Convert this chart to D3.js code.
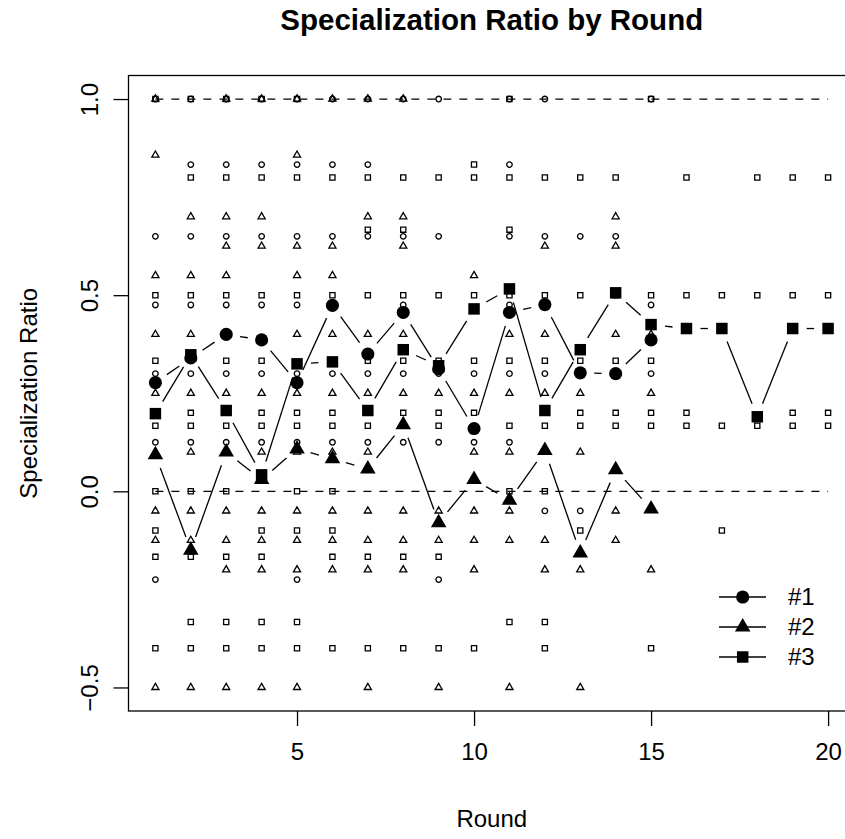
<!DOCTYPE html>
<html>
<head>
<meta charset="utf-8">
<script src="https://cdn.jsdelivr.net/npm/d3@7/dist/d3.min.js"></script>
<style>
  body { margin: 0; background: #fff; }
  svg { display: block; font-family: "Liberation Sans", Arial, Helvetica, sans-serif; }
</style>
</head>
<body>
<svg width="845" height="839"></svg>
<script>
// individual ratios per round, index 0 = round 1
const group1 = [
  [1.0, 0.65, 0.475, 0.3, 0.125, -0.225],
  [1.0, 0.833, 0.65, 0.475, 0.3, 0.125],
  [1.0, 0.833, 0.65, 0.475, 0.3, 0.125],
  [1.0, 0.833, 0.65, 0.475, 0.3, 0.125],
  [1.0, 0.833, 0.65, 0.475, 0.3, 0.125, -0.225],
  [1.0, 0.833, 0.65, 0.475, 0.3, 0.125],
  [1.0, 0.833, 0.65, 0.3, 0.125],
  [1.0, 0.65, 0.475, 0.3, 0.125],
  [1.0, 0.65, 0.3, 0.125, -0.225],
  [0.3, 0.125],
  [1.0, 0.833, 0.65, 0.475, 0.3, 0.125],
  [1.0, 0.65, 0.3, -0.05],
  [0.65, 0.3, -0.05],
  [0.65, 0.3],
  [1.0, 0.475, 0.3]
];

const group2 = [
  [1.0, 0.857, 0.55, 0.4, 0.25, 0.1, -0.05, -0.125, -0.5],
  [0.7, 0.55, 0.4, 0.25, 0.1, -0.05, -0.125, -0.5],
  [1.0, 0.7, 0.625, 0.55, 0.25, 0.1, -0.05, -0.125, -0.2, -0.5],
  [1.0, 0.7, 0.625, 0.25, 0.1, -0.05, -0.125, -0.2, -0.5],
  [1.0, 0.857, 0.625, 0.55, 0.4, 0.25, 0.1, -0.05, -0.125, -0.2, -0.5],
  [1.0, 0.625, 0.55, 0.4, 0.25, 0.1, -0.05, -0.125, -0.2],
  [1.0, 0.7, 0.4, 0.25, 0.1, -0.05, -0.125, -0.2, -0.5],
  [1.0, 0.7, 0.625, 0.4, 0.25, -0.05, -0.125, -0.2],
  [0.25, -0.05, -0.125, -0.5],
  [0.55, 0.25, 0.1, -0.05, -0.125, -0.2],
  [0.4, 0.25, 0.1, -0.05, -0.125, -0.5],
  [0.625, 0.4, 0.25, -0.125, -0.2],
  [0.25, 0.1, -0.2, -0.5],
  [0.7, 0.625, 0.4, -0.05, -0.125],
  [0.4, 0.25, -0.2]
];

const group3 = [
  [1.0, 0.5, 0.333, 0.2, 0.167, 0.0, -0.1, -0.167, -0.4],
  [1.0, 0.8, 0.5, 0.2, 0.167, 0.0, -0.167, -0.333, -0.4],
  [1.0, 0.8, 0.5, 0.333, 0.167, 0.0, -0.167, -0.333, -0.4],
  [1.0, 0.8, 0.5, 0.333, 0.2, 0.167, -0.1, -0.167, -0.333, -0.4],
  [1.0, 0.8, 0.5, 0.2, 0.167, 0.0, -0.1, -0.333, -0.4],
  [0.8, 0.5, 0.2, 0.167, 0.0, -0.1, -0.167, -0.4],
  [0.8, 0.667, 0.5, 0.333, 0.167, -0.167, -0.4],
  [0.8, 0.667, 0.5, 0.333, 0.2, -0.167, -0.4],
  [0.8, 0.5, 0.333, 0.2, 0.167, -0.167, -0.4],
  [0.833, 0.8, 0.5, 0.333, 0.2, -0.4],
  [1.0, 0.8, 0.667, 0.5, 0.333, 0.167, 0.0, -0.333],
  [0.8, 0.5, 0.333, 0.167, 0.0, -0.333, -0.4],
  [0.8, 0.5, 0.333, 0.2, 0.167, -0.1],
  [0.8, 0.5, 0.333, 0.2, 0.167],
  [1.0, 0.5, 0.333, 0.2, 0.167, -0.4],
  [0.8, 0.5, 0.2, 0.167],
  [0.5, 0.167, -0.1],
  [0.8, 0.5, 0.167],
  [0.8, 0.5, 0.2, 0.167],
  [0.8, 0.5, 0.2, 0.167]
];

// per-round means
const mean1 = [0.277, 0.34, 0.40, 0.386, 0.277, 0.474, 0.35, 0.456, 0.312, 0.16, 0.456, 0.476, 0.302, 0.30, 0.386];
const mean2 = [0.093, -0.15, 0.10, 0.03, 0.108, 0.083, 0.057, 0.17, -0.08, 0.03, -0.023, 0.104, -0.157, 0.055, -0.045];
const mean3 = [0.198, 0.348, 0.206, 0.042, 0.325, 0.33, 0.206, 0.361, 0.32, 0.465, 0.516, 0.206, 0.361, 0.506, 0.425, 0.415, 0.415, 0.19, 0.415, 0.415];

const refLines = [1.0, 0.0];
const xTicks = [5, 10, 15, 20];
const yTicks = [-0.5, 0.0, 0.5, 1.0];
const legendLabels = ["#1", "#2", "#3"];

const svg = d3.select("svg");

const x = d3.scaleLinear().domain([0.24, 20.76]).range([128.5, 855]);
const y = d3.scaleLinear().domain([-0.56, 1.06]).range([711, 75.5]);

const shapes = [d3.symbolCircle, d3.symbolTriangle, d3.symbolSquare];
const smallSize = [24, 22, 27];
const bigSize = [135, 105, 132];

const sym = (k, size) => d3.symbol().type(shapes[k]).size(size)();

// reference lines
svg.append("g")
  .selectAll("line")
  .data(refLines)
  .join("line")
  .attr("x1", x(1)).attr("x2", x(20))
  .attr("y1", d => y(d)).attr("y2", d => y(d))
  .attr("stroke", "#000")
  .attr("stroke-width", 1.2)
  .attr("stroke-dasharray", "8,8");

// individual points
[group1, group2, group3].forEach((grp, k) => {
  const pts = grp.flatMap((vals, i) => vals.map(v => ({ r: i + 1, v })));
  svg.append("g")
    .selectAll("path")
    .data(pts)
    .join("path")
    .attr("d", sym(k, smallSize[k]))
    .attr("transform", d => `translate(${x(d.r)},${y(d.v)})`)
    .attr("fill", "none")
    .attr("stroke", "#000")
    .attr("stroke-width", 1.3);
});

// mean lines (type "b": segments with gaps round the points)
const gap = 14;
[mean1, mean2, mean3].forEach((means, k) => {
  const p = means.map((v, i) => [x(i + 1), y(v)]);
  const segs = d3.pairs(p).map(([a, b]) => {
    const dx = b[0] - a[0], dy = b[1] - a[1];
    const len = Math.hypot(dx, dy);
    const ux = dx / len, uy = dy / len;
    return { len, x1: a[0] + ux * gap, y1: a[1] + uy * gap, x2: b[0] - ux * gap, y2: b[1] - uy * gap };
  }).filter(s => s.len > 2 * gap);

  svg.append("g")
    .selectAll("line")
    .data(segs)
    .join("line")
    .attr("x1", d => d.x1).attr("y1", d => d.y1)
    .attr("x2", d => d.x2).attr("y2", d => d.y2)
    .attr("stroke", "#000")
    .attr("stroke-width", 1.3);

  svg.append("g")
    .selectAll("path")
    .data(means)
    .join("path")
    .attr("d", sym(k, bigSize[k]))
    .attr("transform", (d, i) => `translate(${x(i + 1)},${y(d)})`)
    .attr("fill", "#000");
});

// box
svg.append("rect")
  .attr("x", x.range()[0]).attr("y", y.range()[1])
  .attr("width", x.range()[1] - x.range()[0])
  .attr("height", y.range()[0] - y.range()[1])
  .attr("fill", "none")
  .attr("stroke", "#000")
  .attr("stroke-width", 1.3);

// axes
const xAxis = svg.append("g")
  .attr("transform", `translate(0,${y.range()[0]})`)
  .call(d3.axisBottom(x).tickValues(xTicks).tickSize(15).tickPadding(17).tickFormat(d3.format("d")));
xAxis.select(".domain").remove();
xAxis.selectAll("line").attr("stroke-width", 1.3);
xAxis.selectAll("text").attr("font-size", 24).attr("font-family", "Liberation Sans, Arial, sans-serif").attr("fill", "#000");

const yAxis = svg.append("g")
  .attr("transform", `translate(${x.range()[0]},0)`)
  .call(d3.axisLeft(y).tickValues(yTicks).tickSize(15).tickFormat(d => d3.format(".1f")(d).replace("-", "\u2212")));
yAxis.select(".domain").remove();
yAxis.selectAll("line").attr("stroke-width", 1.3);
yAxis.selectAll("text")
  .attr("font-size", 24)
  .attr("font-family", "Liberation Sans, Arial, sans-serif")
  .attr("fill", "#000")
  .attr("text-anchor", "middle")
  .attr("x", null).attr("dy", null)
  .attr("transform", "translate(-31,0) rotate(-90)");

// titles
svg.append("text")
  .attr("x", (x.range()[0] + x.range()[1]) / 2)
  .attr("y", 30)
  .attr("text-anchor", "middle")
  .attr("font-size", 29.5)
  .attr("font-weight", "bold")
  .text("Specialization Ratio by Round");

svg.append("text")
  .attr("x", (x.range()[0] + x.range()[1]) / 2)
  .attr("y", 827)
  .attr("text-anchor", "middle")
  .attr("font-size", 24)
  .text("Round");

svg.append("text")
  .attr("transform", `translate(37,${(y.range()[0] + y.range()[1]) / 2}) rotate(-90)`)
  .attr("text-anchor", "middle")
  .attr("font-size", 24)
  .text("Specialization Ratio");

// legend
const legend = svg.append("g")
  .selectAll("g")
  .data(legendLabels)
  .join("g")
  .attr("transform", (d, i) => `translate(719,${597 + i * 30})`);

legend.append("line")
  .attr("x1", 0).attr("x2", 47)
  .attr("stroke", "#000").attr("stroke-width", 1.3);
legend.append("path")
  .attr("d", (d, i) => sym(i, bigSize[i]))
  .attr("transform", "translate(23.7,0)")
  .attr("fill", "#000");
legend.append("text")
  .attr("x", 69)
  .attr("dy", "0.35em")
  .attr("font-size", 24)
  .text(d => d);
</script>
</body>
</html>
